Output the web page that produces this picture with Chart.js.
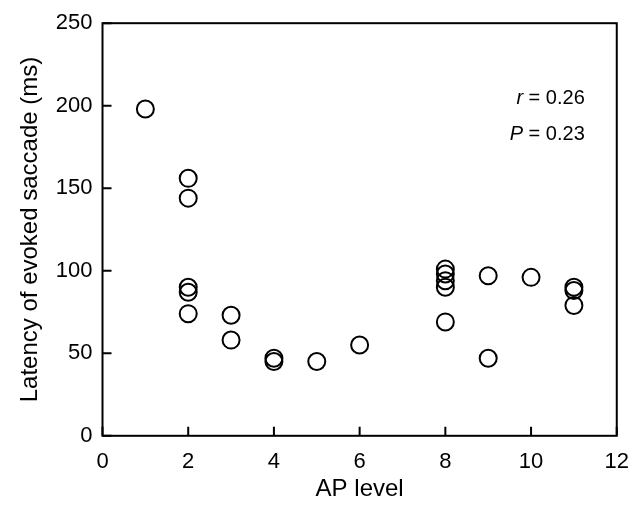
<!DOCTYPE html>
<html><head><meta charset="utf-8">
<script src="https://cdn.jsdelivr.net/npm/chart.js@4/dist/chart.umd.min.js"></script>
<style>html,body{margin:0;padding:0;background:#fff}#wrap{width:642px;height:512px}</style>
</head><body><div id="wrap"><canvas id="c"></canvas></div>
<script>
const apLevel = [1, 2,2,2,2,2, 3,3, 4,4, 5, 6, 8,8,8,8,8, 9,9, 10, 11,11,11];
const latency = [198, 156,144,90,87,74, 73,58, 47,45, 45, 55, 101,98,94,90,69, 97,47, 96, 90,88,79];
const xTicks = [0,2,4,6,8,10,12];
const yTicks = [0,50,100,150,200,250];
const statLines = [{sym:'r', text:' = 0.26'}, {sym:'P', text:' = 0.23'}];

const FONT = '"Liberation Sans", Arial, sans-serif';

const framePlugin = {
  id: 'frame',
  afterDatasetsDraw(chart) {
    const {ctx, chartArea: a, scales} = chart;
    ctx.save();
    ctx.strokeStyle = '#000';
    ctx.lineWidth = 2;
    ctx.strokeRect(a.left, a.top, a.right - a.left, a.bottom - a.top);
    const L = 9;
    ctx.beginPath();
    xTicks.forEach(v => { const x = scales.x.getPixelForValue(v); ctx.moveTo(x, a.bottom); ctx.lineTo(x, a.bottom - L); });
    yTicks.forEach(v => { const y = scales.y.getPixelForValue(v); ctx.moveTo(a.left, y); ctx.lineTo(a.left + L, y); });
    ctx.stroke();
    ctx.fillStyle = '#000';
    ctx.textBaseline = 'middle';
    const rightX = a.right - 32;
    statLines.forEach((s, i) => {
      const y = a.top + 75 + i * 36;
      ctx.font = '20px ' + FONT;
      const tw = ctx.measureText(s.text).width;
      ctx.textAlign = 'left';
      ctx.fillText(s.text, rightX - tw, y);
      ctx.font = 'italic 20px ' + FONT;
      const sw = ctx.measureText(s.sym).width;
      ctx.fillText(s.sym, rightX - tw - sw, y);
    });
    ctx.restore();
  }
};

new Chart(document.getElementById('c'), {
  type: 'scatter',
  data: { datasets: [{
    data: apLevel.map((x, i) => ({x, y: latency[i]})),
    pointStyle: 'circle',
    pointRadius: 8.5,
    pointHoverRadius: 8.5,
    pointBorderWidth: 2,
    pointBorderColor: '#000',
    pointBackgroundColor: 'rgba(0,0,0,0)'
  }]},
  options: {
    responsive: true, maintainAspectRatio: false, animation: false,
    layout: { padding: { top: 0, right: 8, left: 16, bottom: 8 } },
    plugins: { legend: { display: false }, tooltip: { enabled: false } },
    scales: {
      x: {
        type: 'linear', min: 0, max: 12,
        afterBuildTicks: s => { s.ticks = xTicks.map(v => ({value: v})); },
        grid: { display: false, drawTicks: false },
        border: { display: false },
        ticks: { color: '#000', font: { family: FONT, size: 22 }, padding: 13, maxRotation: 0 },
        title: { display: true, text: 'AP level', color: '#000', font: { family: FONT, size: 24 }, padding: { top: -13, bottom: 0 } }
      },
      y: {
        type: 'linear', min: 0, max: 250,
        afterBuildTicks: s => { s.ticks = yTicks.map(v => ({value: v})); },
        grid: { display: false, drawTicks: false },
        border: { display: false },
        ticks: { color: '#000', font: { family: FONT, size: 22 }, padding: 10 },
        title: { display: true, text: 'Latency of evoked saccade (ms)', color: '#000', font: { family: FONT, size: 24 }, padding: { top: 0, bottom: 1 } }
      }
    }
  },
  plugins: [framePlugin]
});
</script></body></html>
